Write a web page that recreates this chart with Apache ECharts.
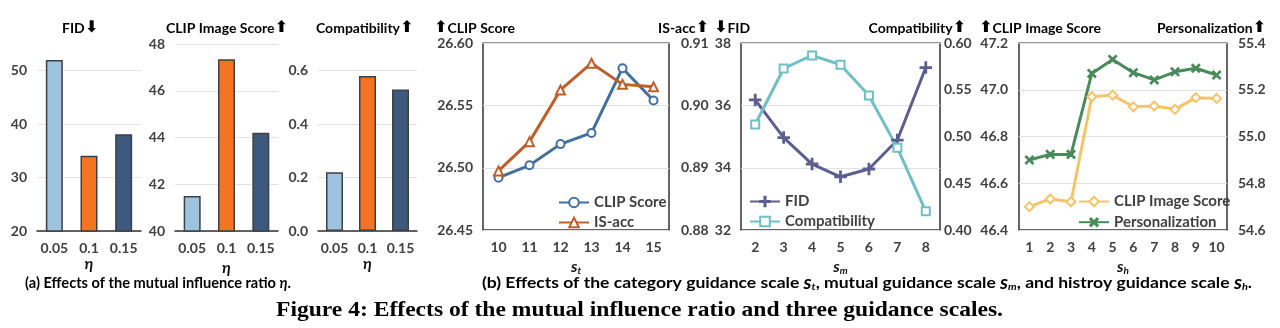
<!DOCTYPE html>
<html><head><meta charset="utf-8">
<script src="https://cdn.jsdelivr.net/npm/echarts@6/dist/echarts.min.js"></script>
<style>html,body{margin:0;padding:0;background:#fff}#c{width:1280px;height:328px}</style>
</head><body><div id="c"></div>
<script>
// ---- data ----
const etaCats = ['0.05', '0.1', '0.15'];
const fidBars = [52.0, 34.1, 38.1];
const clipImgBars = [41.5, 47.35, 44.2];
const compatBars = [0.22, 0.58, 0.53];

const stCats = ['10', '11', '12', '13', '14', '15'];
const clipScore = [26.492, 26.502, 26.519, 26.528, 26.580, 26.554];
const isAcc = [0.8895, 0.8942, 0.9025, 0.9068, 0.9034, 0.9030];

const smCats = ['2', '3', '4', '5', '6', '7', '8'];
const fidLine = [36.18, 34.97, 34.12, 33.71, 33.96, 34.89, 37.22];
const compatLine = [0.513, 0.573, 0.587, 0.577, 0.544, 0.488, 0.420];

const shCats = ['1', '2', '3', '4', '5', '6', '7', '8', '9', '10'];
const clipImgLine = [46.50, 46.533, 46.521, 46.971, 46.978, 46.928, 46.931, 46.917, 46.967, 46.964];
const personal = [54.90, 54.924, 54.924, 55.271, 55.331, 55.274, 55.243, 55.278, 55.293, 55.264];

// ---- style ----
const TXT = '#404040';
const FONT = 'Lato';
const barColors = ['#9DC3E0', '#F47324', '#3D5A7E'];
const C_CLIP = '#44709E', C_IS = '#BE5E2A', C_FID = '#5B5E8E', C_COMP = '#6FC0C4', C_CI = '#F5C46A', C_PER = '#4B8A5B';

const chart = echarts.init(document.getElementById('c'));

const lbl = (fmt, margin) => ({color: TXT, fontFamily: FONT, fontWeight: 'bold', fontSize: 14, margin: margin, formatter: fmt, interval: 0});
const nameRich = {
  s: {fontFamily: FONT, fontStyle: 'italic', fontWeight: 'bold', fontSize: 16, color: '#111'},
  sub: {fontFamily: FONT, fontStyle: 'italic', fontWeight: 'bold', fontSize: 10, color: '#111', padding: [8, 0, 0, 0]}
};

const grids = [
  {left: 37, top: 70.7, width: 104, height: 160.3},
  {left: 175, top: 44, width: 103, height: 187},
  {left: 318, top: 70.7, width: 99, height: 160.3},
  {left: 483, top: 43.3, width: 186, height: 186.7, show: true, borderColor: '#333', borderWidth: 1.5},
  {left: 741, top: 43.3, width: 199, height: 186.7, show: true, borderColor: '#333', borderWidth: 1.5},
  {left: 1019, top: 43.3, width: 208, height: 186.7, show: true, borderColor: '#333', borderWidth: 1.5},
  // taller overlay grids holding the bars of panels 1 and 3 (bars rise above the top tick)
  {left: 37, top: 44, width: 104, height: 187},
  {left: 318, top: 44, width: 99, height: 187}
];

function barXAxis(gi) {
  return {type: 'category', gridIndex: gi, data: etaCats, axisTick: {show: false},
    axisLine: {lineStyle: {color: '#333', width: 1.5}}, axisLabel: lbl(null, 10),
    name: '{s|η}', nameLocation: 'middle', nameGap: 24, nameTextStyle: {rich: nameRich}};
}
function lineXAxis(gi, cats, sub) {
  return {type: 'category', gridIndex: gi, data: cats, axisTick: {show: false},
    axisLine: {show: false}, axisLabel: lbl(null, 10),
    name: '{s|s}{sub|' + sub + '}', nameLocation: 'middle', nameGap: 24, nameTextStyle: {rich: nameRich}};
}
function yAx(gi, min, max, interval, dec, pos, margin, split) {
  return {type: 'value', gridIndex: gi, min: min, max: max, interval: interval, position: pos,
    axisLine: {show: false}, axisTick: {show: false},
    splitLine: {show: split, lineStyle: {color: '#e2e2e2', width: 1}},
    axisLabel: lbl(v => v.toFixed(dec), margin)};
}

const xAxis = [barXAxis(0), barXAxis(1), barXAxis(2),
  lineXAxis(3, stCats, 't'), lineXAxis(4, smCats, 'm'), lineXAxis(5, shCats, 'h'),
  {type: 'category', gridIndex: 6, data: etaCats, show: false},
  {type: 'category', gridIndex: 7, data: etaCats, show: false}];
const yAxis = [
  yAx(0, 20, 50, 10, 0, 'left', 10, true),
  yAx(1, 40, 48, 2, 0, 'left', 10, true),
  yAx(2, 0, 0.6, 0.2, 1, 'left', 10, true),
  yAx(3, 26.45, 26.60, 0.05, 2, 'left', 10, true),
  yAx(3, 0.88, 0.91, 0.01, 2, 'right', 12, false),
  yAx(4, 32, 38, 2, 0, 'left', 10, true),
  yAx(4, 0.40, 0.60, 0.05, 2, 'right', 4, false),
  yAx(5, 46.4, 47.2, 0.2, 1, 'left', 11, true),
  yAx(5, 54.6, 55.4, 0.2, 1, 'right', 11, false),
  {type: 'value', gridIndex: 6, min: 20, max: 55, show: false},
  {type: 'value', gridIndex: 7, min: 0, max: 0.7, show: false}
];

function barSeries(xi, yi, data) {
  return {type: 'bar', xAxisIndex: xi, yAxisIndex: yi, data: data, barWidth: 17,
    itemStyle: {color: p => barColors[p.dataIndex], borderColor: '#404040', borderWidth: 1.5},
    emphasis: {disabled: true}};
}
const PLUS = 'path://M4.4,0H5.6V4.4H10V5.6H5.6V10H4.4V5.6H0V4.4H4.4Z';
function lineSeries(name, xi, yi, data, color, symbol, size, rot) {
  return {type: 'line', name: name, xAxisIndex: xi, yAxisIndex: yi, data: data,
    symbol: symbol, symbolSize: size, symbolRotate: rot || 0,
    lineStyle: {color: color, width: 3}, itemStyle: {color: color, borderColor: color, borderWidth: 1.5},
    emphasis: {disabled: true}};
}

const series = [
  barSeries(6, 9, fidBars), barSeries(1, 1, clipImgBars), barSeries(7, 10, compatBars),
  lineSeries('CLIP Score', 3, 3, clipScore, C_CLIP, 'emptyCircle', 8),
  lineSeries('IS-acc', 3, 4, isAcc, C_IS, 'emptyTriangle', 9),
  lineSeries('FID', 4, 5, fidLine, C_FID, PLUS, 11),
  lineSeries('Compatibility', 4, 6, compatLine, C_COMP, 'emptyRect', 8),
  lineSeries('CLIP Image Score', 5, 7, clipImgLine, C_CI, 'emptyDiamond', 9),
  lineSeries('Personalization', 5, 8, personal, C_PER, PLUS, 10, 45)
];

const legTxt = {color: TXT, fontFamily: FONT, fontWeight: 'bold', fontSize: 15};
function leg(names, left, top) {
  return {data: names, left: left, top: top, orient: 'vertical', itemWidth: 30, itemHeight: 12,
    itemGap: 5, textStyle: legTxt, selectedMode: false, padding: 0};
}
const legend = [
  leg(['CLIP Score', 'IS-acc'], 558, 195),
  leg(['FID', 'Compatibility'], 749, 194),
  leg(['CLIP Image Score', 'Personalization'], 1078, 194)
];

const TF = {fontFamily: FONT, fontWeight: 'bold', fontSize: 14, color: TXT};
const AR = {fontFamily: 'DejaVu Sans', fontWeight: 'bold', fontSize: 16, color: TXT};
function title(text, x, align) {
  return {type: 'text', x: x, y: 28, silent: true,
    style: {text: text, align: align || 'left', verticalAlign: 'middle', rich: {t: TF, a: AR}}};
}

// captions: rich text, horizontally scaled to the reference width
const capRich = {
  t: {fontFamily: FONT, fontWeight: 'bold', fontSize: 16, color: '#111'},
  i: {fontFamily: FONT, fontWeight: 'bold', fontStyle: 'italic', fontSize: 16, color: '#111'},
  s: {fontFamily: FONT, fontWeight: 'bold', fontStyle: 'italic', fontSize: 18, color: '#111'},
  b: {fontFamily: FONT, fontWeight: 'bold', fontStyle: 'italic', fontSize: 10, color: '#111', padding: [8, 0, 0, 0]},
  f: {fontFamily: 'Liberation Serif', fontWeight: 'bold', fontSize: 21, color: '#111'}
};
const mctx = document.createElement('canvas').getContext('2d');
function segWidth(segs) {
  let w = 0;
  for (const [s, k] of segs) {
    const st = capRich[k];
    mctx.font = (st.fontStyle || 'normal') + ' ' + st.fontWeight + ' ' + st.fontSize + 'px "' + st.fontFamily + '"';
    w += mctx.measureText(s).width;
  }
  return w;
}
function caption(segs, x, y, width, align) {
  const sx = width / segWidth(segs);
  return {type: 'text', x: x, y: y, scaleX: sx, silent: true,
    style: {text: segs.map(([s, k]) => '{' + k + '|' + s + '}').join(''), align: align || 'left',
      verticalAlign: 'middle', rich: capRich}};
}
const capA = [['(a) Effects of the mutual influence ratio ', 't'], ['η', 'i'], ['.', 't']];
const capB = [['(b) Effects of the category guidance scale ', 't'], ['s', 's'], ['t', 'b'],
  [', mutual guidance scale ', 't'], ['s', 's'], ['m', 'b'], [', and histroy guidance scale ', 't'],
  ['s', 's'], ['h', 'b'], ['.', 't']];
const capFig = [['Figure 4: Effects of the mutual influence ratio and three guidance scales.', 'f']];

const graphic = [
  title('{t|FID}{a|⬇}', 62),
  title('{t|CLIP Image Score}{a|⬆}', 166),
  title('{t|Compatibility}{a|⬆}', 316),
  title('{a|⬆}{t|CLIP Score}', 434),
  title('{t|IS-acc}{a|⬆}', 709, 'right'),
  title('{a|⬇}{t|FID}', 714),
  title('{t|Compatibility}{a|⬆}', 966, 'right'),
  title('{a|⬆}{t|CLIP Image Score}', 979),
  title('{t|Personalization}{a|⬆}', 1266, 'right'),
  caption(capA, 25, 283, 266),
  caption(capB, 482, 283, 770),
  caption(capFig, 276, 311, 727)
];

chart.setOption({animation: false, grid: grids, xAxis: xAxis, yAxis: yAxis, series: series, legend: legend, graphic: graphic});
</script></body></html>
